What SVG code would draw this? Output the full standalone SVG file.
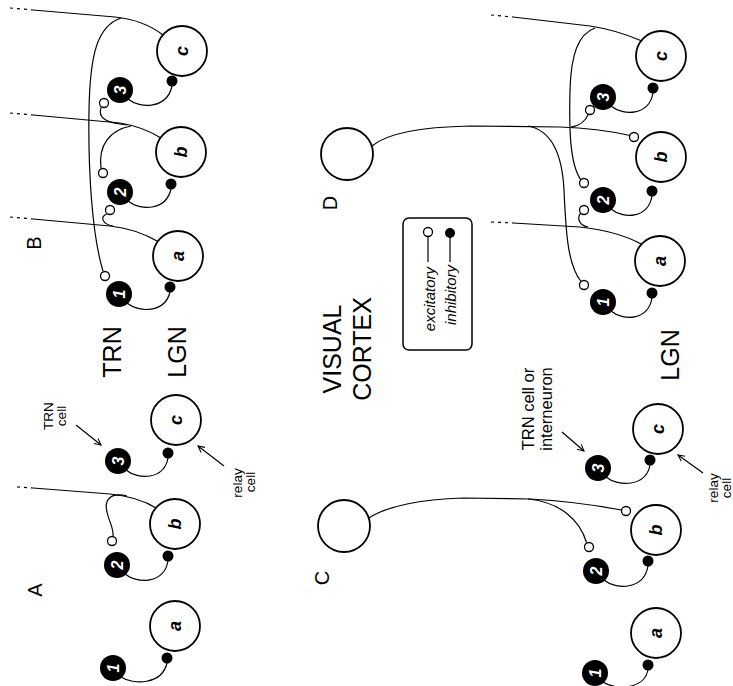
<svg xmlns="http://www.w3.org/2000/svg" width="733" height="686" viewBox="0 0 733 686">
<style>
.cell{fill:#fff;stroke:#000;stroke-width:1.8}
.trn{fill:#000}
.num{fill:#fff;font-family:"Liberation Sans",Arial,sans-serif;font-weight:bold;font-style:italic;font-size:16px}
.let{fill:#000;font-family:"Liberation Sans",Arial,sans-serif;font-weight:bold;font-style:italic;font-size:18px}
.ax{fill:none;stroke:#000;stroke-width:1.2}
.dash{fill:none;stroke:#000;stroke-width:1.2;stroke-dasharray:3 4}
.exc{fill:#fff;stroke:#000;stroke-width:1.3}
.inh{fill:#000}
.big{font-family:"Liberation Sans",Arial,sans-serif;font-size:25px;fill:#000}
.pl{font-family:"Liberation Sans",Arial,sans-serif;font-size:20px;fill:#000}
.sm{font-family:"Liberation Sans",Arial,sans-serif;font-size:13.5px;fill:#000}
.md{font-family:"Liberation Sans",Arial,sans-serif;font-size:16.5px;fill:#000}
.it{font-family:"Liberation Sans",Arial,sans-serif;font-size:15px;font-style:italic;fill:#000}
.arr{fill:none;stroke:#000;stroke-width:1.2}
text{text-anchor:middle;dominant-baseline:central}
</style>
<defs>
<marker id="ah" viewBox="0 0 10 10" refX="9" refY="5" markerWidth="8" markerHeight="8" orient="auto" markerUnits="userSpaceOnUse">
<path d="M1,1 L9,5 L1,9" fill="none" stroke="#000" stroke-width="1.3"/>
</marker>
</defs>

<g id="connectors">
<!-- Panel B -->
<path class="dash" d="M10 8 L33 10"/>
<path class="ax" d="M33 10 L115 17 C135 19,150 25,163 35"/>
<path class="ax" d="M121 18 C97 26,90 55,89 110 C88 170,92 235,103 271"/>
<path class="dash" d="M10 113 L33 115"/>
<path class="ax" d="M33 115 L120 123 C138 126,150 131,161 138"/>
<path class="ax" d="M127 125 C108 123,97 119,101 107.5"/>
<path class="ax" d="M131 126 C110 130,98 145,101 168.5"/>
<path class="dash" d="M10 217 L33 219"/>
<path class="ax" d="M33 219 L110 226 C130 228,145 234,159 242"/>
<path class="ax" d="M113 226 C102 224,100 217,106.5 214"/>
<path class="ax" d="M128 99 C140 109,167 109,172 86"/>
<path class="ax" d="M128 201 C140 211,166 211,171 189"/>
<path class="ax" d="M127 303 C139 313,165 313,170 292"/>
<!-- Panel A -->
<path class="dash" d="M17 487 L33 488"/>
<path class="ax" d="M33 488 L110 494 C130 496,145 501,156 508"/>
<path class="ax" d="M127 496 C110 492,104 500,107 512 C109 522,114 528,113 536.5"/>
<path class="ax" d="M126 470 C138 480,164 480,168 458"/>
<path class="ax" d="M125 574 C137 584,164 584,168 561"/>
<path class="ax" d="M121 677 C133 685,162 685,167 663"/>
<!-- Panel D -->
<path class="ax" d="M372 146 C386 134,420 127,470 126 L560 127 C590 128,610 131,630 135.5"/>
<path class="ax" d="M528 126 C550 130,562 150,564 190 C566 235,568 265,581 281.5"/>
<path class="ax" d="M571 127 C580 126,586 120,588.5 114"/>
<path class="dash" d="M491 15 L513 17"/>
<path class="ax" d="M513 17 L590 26 C610 29,628 35,642 41"/>
<path class="ax" d="M595 28 C578 34,571 55,570 90 C569 130,570 165,581 180"/>
<path class="dash" d="M491 222 L513 223"/>
<path class="ax" d="M513 223 L580 227 C605 230,625 235,641 244"/>
<path class="ax" d="M588 227 C578 225,577 217,581 213"/>
<path class="ax" d="M611 106 C623 116,649 116,653 93"/>
<path class="ax" d="M611 209 C623 219,648 219,652 196"/>
<path class="ax" d="M611 311 C623 321,648 321,652 298"/>
<!-- Panel C -->
<path class="ax" d="M369 518 C385 507,420 499,463 498 L530 499 C570 501,600 506,621.5 510"/>
<path class="ax" d="M528 499 C560 502,580 520,586.5 542.5"/>
<path class="ax" d="M606 477 C618 487,646 487,650 465"/>
<path class="ax" d="M604 580 C616 590,644 590,648 566"/>
<path class="ax" d="M603 682 C615 690,644 690,648 670"/>
<!-- label arrows -->
<path class="arr" d="M76 425 L101 445" marker-end="url(#ah)"/>
<path class="arr" d="M224 466 L198 446" marker-end="url(#ah)"/>
<path class="arr" d="M562 432 L584 451" marker-end="url(#ah)"/>
<path class="arr" d="M703 473 L678 455" marker-end="url(#ah)"/>
</g>

<!-- Panel B nodes -->
<g id="B-relay-c"><circle class="cell" cx="182" cy="51" r="25"/><text class="let" transform="translate(182,51) rotate(-90)">c</text></g>
<g id="B-relay-b"><circle class="cell" cx="181" cy="152" r="25"/><text class="let" transform="translate(181,152) rotate(-90)">b</text></g>
<g id="B-relay-a"><circle class="cell" cx="178" cy="256" r="25"/><text class="let" transform="translate(178,256) rotate(-90)">a</text></g>
<g id="B-trn-3"><circle class="trn" cx="120" cy="90" r="13"/><text class="num" transform="translate(120,90) rotate(-90)">3</text></g>
<g id="B-trn-2"><circle class="trn" cx="120" cy="192" r="13"/><text class="num" transform="translate(120,192) rotate(-90)">2</text></g>
<g id="B-trn-1"><circle class="trn" cx="119" cy="294" r="13"/><text class="num" transform="translate(119,294) rotate(-90)">1</text></g>
<g id="B-synapses">
<circle class="inh" cx="172" cy="81" r="5.5"/><circle class="inh" cx="171" cy="184" r="5.5"/><circle class="inh" cx="170" cy="287" r="5.5"/>
<circle class="exc" cx="104" cy="103" r="4.5"/><circle class="exc" cx="103" cy="173" r="4.5"/><circle class="exc" cx="110" cy="210" r="4.5"/><circle class="exc" cx="105" cy="276" r="4.5"/>
</g>

<!-- Panel A nodes -->
<g id="A-relay-c"><circle class="cell" cx="176" cy="420" r="25"/><text class="let" transform="translate(176,420) rotate(-90)">c</text></g>
<g id="A-relay-b"><circle class="cell" cx="175" cy="524" r="25"/><text class="let" transform="translate(175,524) rotate(-90)">b</text></g>
<g id="A-relay-a"><circle class="cell" cx="175" cy="626" r="25"/><text class="let" transform="translate(175,626) rotate(-90)">a</text></g>
<g id="A-trn-3"><circle class="trn" cx="118" cy="461" r="13"/><text class="num" transform="translate(118,461) rotate(-90)">3</text></g>
<g id="A-trn-2"><circle class="trn" cx="117" cy="565" r="13"/><text class="num" transform="translate(117,565) rotate(-90)">2</text></g>
<g id="A-trn-1"><circle class="trn" cx="113" cy="668" r="13"/><text class="num" transform="translate(113,668) rotate(-90)">1</text></g>
<g id="A-synapses">
<circle class="inh" cx="168" cy="453" r="5.5"/><circle class="inh" cx="168" cy="556" r="5.5"/><circle class="inh" cx="167" cy="658" r="5.5"/>
<circle class="exc" cx="112" cy="541" r="4.5"/>
</g>

<!-- Panel D nodes -->
<g id="D-cortex"><circle class="cell" cx="347" cy="154" r="26"/></g>
<g id="D-relay-c"><circle class="cell" cx="661" cy="56" r="25"/><text class="let" transform="translate(661,56) rotate(-90)">c</text></g>
<g id="D-relay-b"><circle class="cell" cx="661" cy="157" r="25"/><text class="let" transform="translate(661,157) rotate(-90)">b</text></g>
<g id="D-relay-a"><circle class="cell" cx="660" cy="261" r="25"/><text class="let" transform="translate(660,261) rotate(-90)">a</text></g>
<g id="D-trn-3"><circle class="trn" cx="603" cy="97" r="13"/><text class="num" transform="translate(603,97) rotate(-90)">3</text></g>
<g id="D-trn-2"><circle class="trn" cx="603" cy="200" r="13"/><text class="num" transform="translate(603,200) rotate(-90)">2</text></g>
<g id="D-trn-1"><circle class="trn" cx="603" cy="302" r="13"/><text class="num" transform="translate(603,302) rotate(-90)">1</text></g>
<g id="D-synapses">
<circle class="inh" cx="653" cy="88" r="5.5"/><circle class="inh" cx="652" cy="191" r="5.5"/><circle class="inh" cx="652" cy="293" r="5.5"/>
<circle class="exc" cx="590" cy="110" r="4.5"/><circle class="exc" cx="634" cy="137" r="4.5"/><circle class="exc" cx="584" cy="183" r="4.5"/><circle class="exc" cx="584" cy="210" r="4.5"/><circle class="exc" cx="584" cy="285" r="4.5"/>
</g>

<!-- Panel C nodes -->
<g id="C-cortex"><circle class="cell" cx="344" cy="526" r="26"/></g>
<g id="C-relay-c"><circle class="cell" cx="658" cy="429" r="25"/><text class="let" transform="translate(658,429) rotate(-90)">c</text></g>
<g id="C-relay-b"><circle class="cell" cx="656" cy="530" r="25"/><text class="let" transform="translate(656,530) rotate(-90)">b</text></g>
<g id="C-relay-a"><circle class="cell" cx="656" cy="633" r="25"/><text class="let" transform="translate(656,633) rotate(-90)">a</text></g>
<g id="C-trn-3"><circle class="trn" cx="598" cy="468" r="13"/><text class="num" transform="translate(598,468) rotate(-90)">3</text></g>
<g id="C-trn-2"><circle class="trn" cx="596" cy="571" r="13"/><text class="num" transform="translate(596,571) rotate(-90)">2</text></g>
<g id="C-trn-1"><circle class="trn" cx="595" cy="673" r="13"/><text class="num" transform="translate(595,673) rotate(-90)">1</text></g>
<g id="C-synapses">
<circle class="inh" cx="650" cy="460" r="5.5"/><circle class="inh" cx="648" cy="561" r="5.5"/><circle class="inh" cx="648" cy="665" r="5.5"/>
<circle class="exc" cx="626" cy="511" r="4.5"/><circle class="exc" cx="589" cy="547" r="4.5"/>
</g>

<!-- Legend -->
<g id="legend">
<rect x="403" y="218" width="69" height="132" rx="6" fill="#fff" stroke="#000" stroke-width="1.5"/>
<text class="it" style="text-anchor:end" transform="translate(429,267) rotate(-90)">excitatory</text>
<text class="it" style="text-anchor:end" transform="translate(450,265) rotate(-90)">inhibitory</text>
<path class="ax" d="M428 262 L428 237"/>
<circle class="exc" cx="428" cy="232" r="4.5"/>
<path class="ax" d="M450 262 L450 237"/>
<circle class="inh" cx="450" cy="233" r="5"/>
</g>

<!-- Labels -->
<g id="labels">
<text class="pl" transform="translate(35,590) rotate(-90)">A</text>
<text class="pl" transform="translate(34,243) rotate(-90)">B</text>
<text class="pl" transform="translate(322,578) rotate(-90)">C</text>
<text class="pl" transform="translate(330,203) rotate(-90)">D</text>
<text class="big" transform="translate(112,352) rotate(-90)">TRN</text>
<text class="big" transform="translate(177,352) rotate(-90)">LGN</text>
<text class="big" transform="translate(332,349) rotate(-90)">VISUAL</text>
<text class="big" transform="translate(362,349) rotate(-90)">CORTEX</text>
<text class="big" transform="translate(670,355) rotate(-90)">LGN</text>
<text class="sm" transform="translate(48,416) rotate(-90)">TRN</text>
<text class="sm" transform="translate(61,416) rotate(-90)">cell</text>
<text class="sm" transform="translate(237,483) rotate(-90)">relay</text>
<text class="sm" transform="translate(250,482) rotate(-90)">cell</text>
<text class="md" transform="translate(528,409) rotate(-90)">TRN cell or</text>
<text class="md" transform="translate(546,409) rotate(-90)">interneuron</text>
<text class="sm" transform="translate(713,488) rotate(-90)">relay</text>
<text class="sm" transform="translate(726,488) rotate(-90)">cell</text>
</g>
</svg>
